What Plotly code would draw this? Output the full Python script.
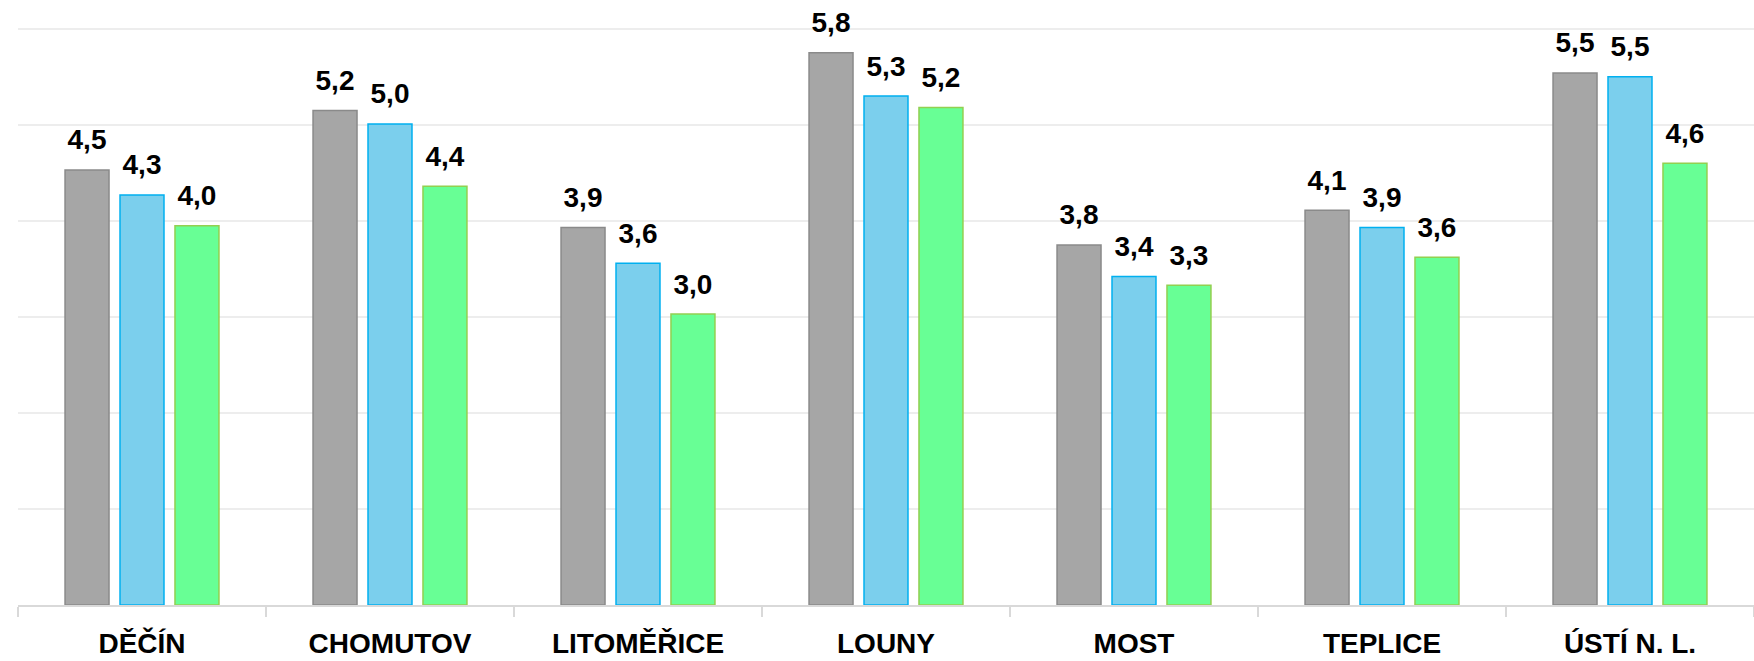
import plotly.graph_objects as go

categories = ["DĚČÍN", "CHOMUTOV", "LITOMĚŘICE", "LOUNY", "MOST", "TEPLICE", "ÚSTÍ N. L."]
series_a = [4.53, 5.15, 3.93, 5.75, 3.75, 4.11, 5.54]
series_b = [4.27, 5.01, 3.56, 5.30, 3.42, 3.93, 5.50]
series_c = [3.95, 4.36, 3.03, 5.18, 3.33, 3.62, 4.60]

fills = ["#A6A6A6", "#7BCFED", "#68FF95"]
borders = ["#8A8A8A", "#00B0F0", "#92D050"]

def fmt(v):
    return f"{v:.1f}".replace(".", ",")

FONT = "Liberation Sans"

fig = go.Figure()
for vals, fc, bc in zip([series_a, series_b, series_c], fills, borders):
    fig.add_trace(go.Bar(
        x=categories, y=vals,
        marker=dict(color=fc, line=dict(color=bc, width=1.5)),
        showlegend=False, hoverinfo="skip",
    ))
for vals in [series_a, series_b, series_c]:
    fig.add_trace(go.Scatter(
        x=categories, y=vals,
        mode="markers+text",
        marker=dict(size=20, color="rgba(0,0,0,0)"),
        text=[fmt(v) for v in vals],
        textposition="top center",
        textfont=dict(family=FONT, size=28, color="black", weight="bold"),
        cliponaxis=False, showlegend=False, hoverinfo="skip",
    ))

fig.update_layout(
    width=1754, height=661,
    margin=dict(l=18, r=0, t=0, b=56, autoexpand=False),
    barmode="group", bargap=0.335, bargroupgap=0.2,
    scattermode="group", scattergap=0.335,
    plot_bgcolor="white", paper_bgcolor="white",
    xaxis=dict(
        automargin=False,
        showline=True, linecolor="#D9D9D9", linewidth=1.5,
        ticks="outside", tickson="boundaries", ticklen=10, tickcolor="#D9D9D9", tickwidth=1.5,
        ticklabelstandoff=13,
        tickfont=dict(family=FONT, size=28, color="black", weight="bold"),
        showgrid=False,
    ),
    yaxis=dict(
        automargin=False,
        range=[0, 6.3], dtick=1, showticklabels=False,
        showgrid=True, gridcolor="#EDEDED", gridwidth=1.5, zeroline=False,
    ),
)

fig.write_html("out.html", config={"displayModeBar": False},
               post_script="document.body.style.margin='0';document.body.style.overflow='hidden';")
